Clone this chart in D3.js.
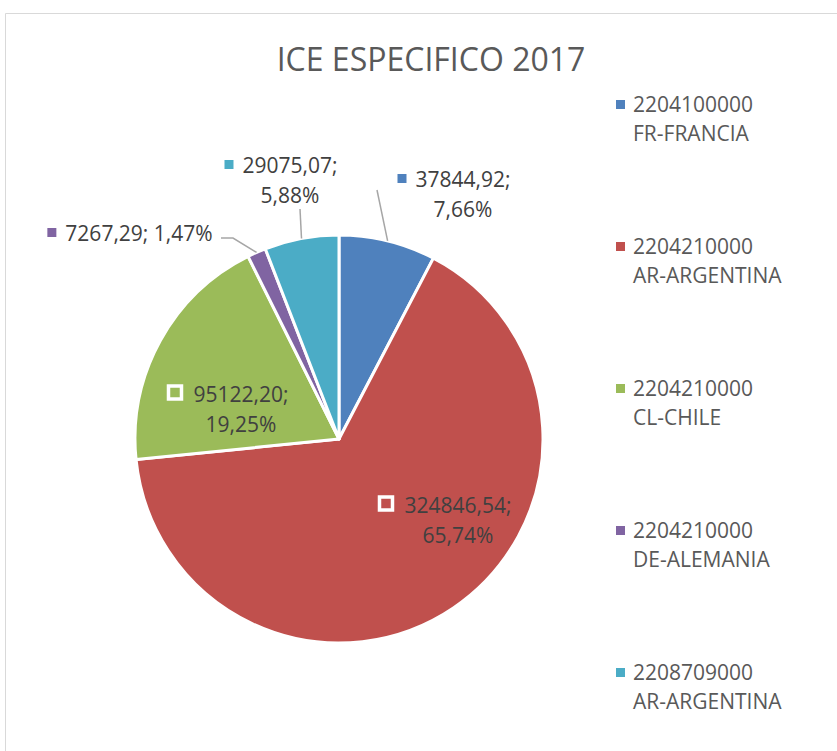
<!DOCTYPE html>
<html>
<head>
<meta charset="utf-8">
<script src="https://cdn.jsdelivr.net/npm/d3@7"></script>
<style>
  body { margin: 0; background: #fff; }
  text { font-family: 'Open Sans', sans-serif; }
</style>
</head>
<body>
<div id="canvas"></div>
<script>
var W = 837, H = 751;

// data
var codes = ['2204100000', '2204210000', '2204210000', '2204210000', '2208709000'];
var countries = ['FR-FRANCIA', 'AR-ARGENTINA', 'CL-CHILE', 'DE-ALEMANIA', 'AR-ARGENTINA'];
var values = [37844.92, 324846.54, 95122.20, 7267.29, 29075.07];
var percents = ['7,66%', '65,74%', '19,25%', '1,47%', '5,88%'];
var valueLabels = ['37844,92', '324846,54', '95122,20', '7267,29', '29075,07'];

var colors = ['#4F81BD', '#C0504D', '#9BBB59', '#8064A2', '#4BACC6'];

// label layout (text centre, first baseline, leader end points) - relative to pie centre
var cx = 339, cy = 439, r = 204;
var labelLayout = [
  {x: 124, y: -252, inside: false, oneLine: false, leader: [[38, -249]]},
  {x: 119, y: 74, inside: true, oneLine: false, leader: null},
  {x: -98, y: -37, inside: true, oneLine: false, leader: null},
  {x: -200, y: -198, inside: false, oneLine: true, leader: [[-106, -201], [-118, -201]]},
  {x: -49, y: -266, inside: false, oneLine: false, leader: [[-39, -230]]}
];

var svg = d3.select('#canvas')
  .append('svg')
  .attr('width', W)
  .attr('height', H);

// frame (cropped chart border)
svg.append('path')
  .attr('d', 'M5.5,' + H + 'V13.5H' + W)
  .attr('fill', 'none')
  .attr('stroke', '#d9d9d9')
  .attr('stroke-width', 1);

svg.append('text')
  .attr('x', 431)
  .attr('y', 71)
  .attr('text-anchor', 'middle')
  .attr('fill', '#595959')
  .style('font-size', '32px')
  .text('ICE ESPECIFICO 2017');

var pie = d3.pie().sort(null).value(function(d) { return d; });
var arcs = pie(values);
var arc = d3.arc().innerRadius(0).outerRadius(r);

var plot = svg.append('g')
  .attr('transform', 'translate(' + cx + ',' + cy + ')');

plot.selectAll('.slice')
  .data(arcs)
  .enter()
  .append('path')
  .attr('class', 'slice')
  .attr('d', arc)
  .attr('fill', function(d, i) { return colors[i]; })
  .attr('stroke', '#fff')
  .attr('stroke-width', 3)
  .attr('stroke-linejoin', 'round');

// leader lines
arcs.forEach(function(d, i) {
  var L = labelLayout[i];
  if (!L.leader) return;
  var mid = (d.startAngle + d.endAngle) / 2;
  var pts = [[r * Math.sin(mid), -r * Math.cos(mid)]].concat(L.leader);
  plot.append('path')
    .attr('d', d3.line()(pts))
    .attr('fill', 'none')
    .attr('stroke', '#a6a6a6')
    .attr('stroke-width', 1.5);
});

// data labels
arcs.forEach(function(d, i) {
  var L = labelLayout[i];
  var g = plot.append('g');
  var lines = L.oneLine ? [valueLabels[i] + '; ' + percents[i]] : [valueLabels[i] + ';', percents[i]];
  var first = null;
  lines.forEach(function(t, k) {
    var tx = g.append('text')
      .attr('x', L.x)
      .attr('y', L.y + k * 30)
      .attr('text-anchor', 'middle')
      .attr('fill', '#404040')
      .style('font-size', '21px')
      .text(t);
    if (k === 0) first = tx;
  });
  var bb = first.node().getBBox();
  if (L.inside) {
    g.append('rect')
      .attr('x', bb.x - 25)
      .attr('y', L.y - 16)
      .attr('width', 13)
      .attr('height', 13)
      .attr('fill', colors[i])
      .attr('stroke', '#fff')
      .attr('stroke-width', 3.5);
  } else {
    g.append('rect')
      .attr('x', bb.x - 18)
      .attr('y', L.y - 13)
      .attr('width', 9)
      .attr('height', 9)
      .attr('fill', colors[i]);
  }
});

// legend
var legend = svg.append('g')
  .attr('transform', 'translate(616,100)');

var item = legend.selectAll('.item')
  .data(codes)
  .enter()
  .append('g')
  .attr('class', 'item')
  .attr('transform', function(d, i) { return 'translate(0,' + i * 142 + ')'; });

item.append('rect')
  .attr('width', 9)
  .attr('height', 9)
  .attr('fill', function(d, i) { return colors[i]; });

item.append('text')
  .attr('x', 17)
  .attr('y', 12)
  .attr('fill', '#595959')
  .style('font-size', '21px')
  .text(function(d) { return d; });

item.append('text')
  .attr('x', 17)
  .attr('y', 41)
  .attr('fill', '#595959')
  .style('font-size', '21px')
  .text(function(d, i) { return countries[i]; });
</script>
</body>
</html>
